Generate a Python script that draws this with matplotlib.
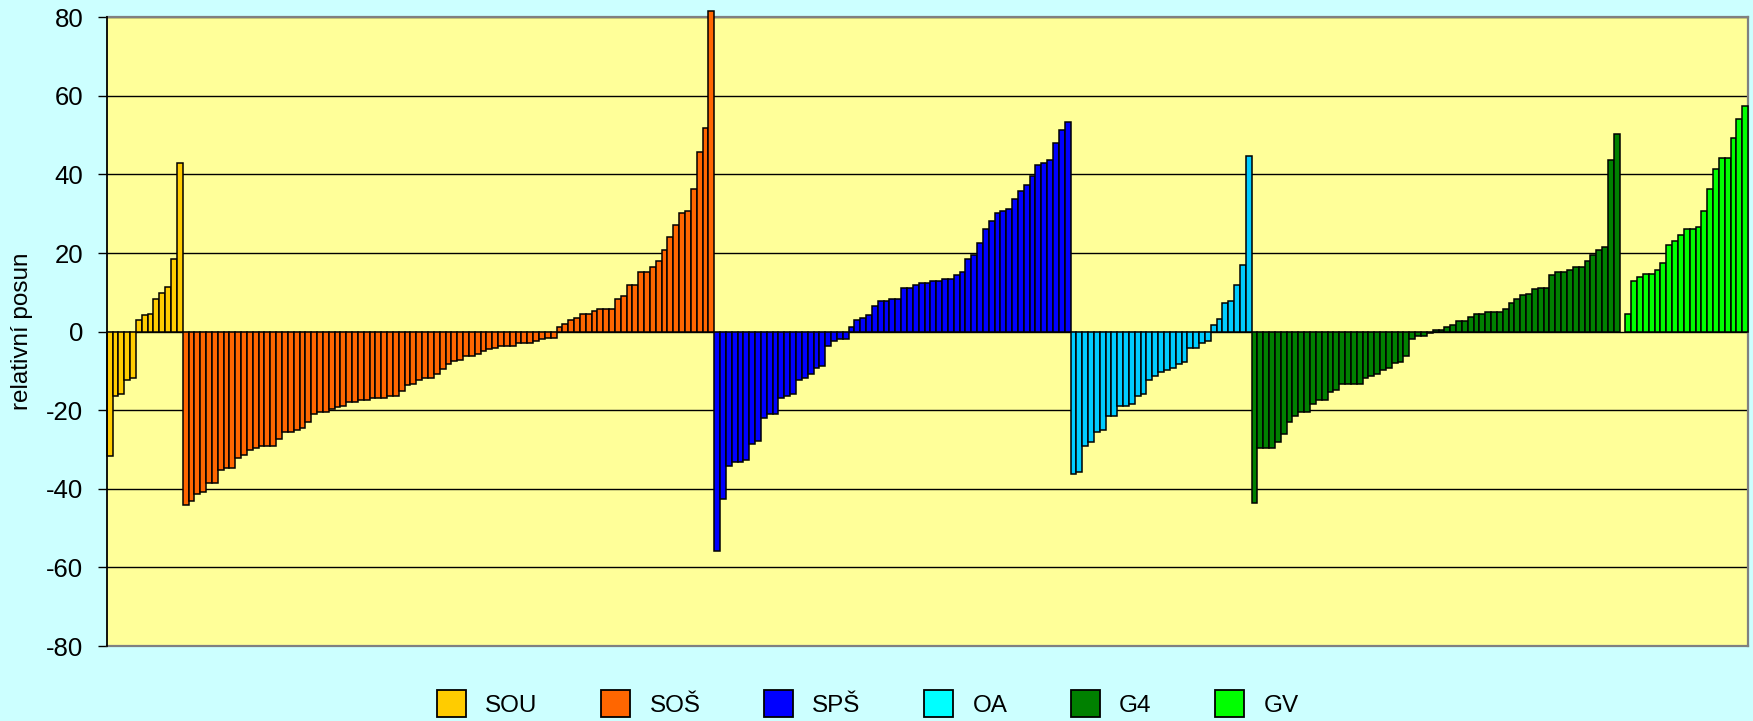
import matplotlib.pyplot as plt
from matplotlib.patches import Patch
import numpy as np

plt.rcParams['font.family'] = ['Liberation Sans', 'DejaVu Sans']
plt.rcParams['axes.unicode_minus'] = False

# hodnoty relativního posunu podle typu školy (seřazeno)
sou = [-31.6, -16.3, -15.9, -12.3, -11.7, 3.0, 4.3, 4.6, 8.3, 9.8, 11.3, 18.5, 43.0]

sos = [-44.1, -43.1, -41.4, -40.9, -38.4, -38.4, -35.3, -34.7, -34.7, -32.1,
       -31.5, -30.2, -29.6, -29.1, -29.1, -29.1, -27.2, -25.6, -25.6, -25.0,
       -24.5, -22.9, -21.0, -20.4, -20.4, -19.8, -19.3, -18.8, -17.9, -17.9,
       -17.5, -17.5, -16.9, -16.9, -16.9, -16.4, -16.4, -15.0, -13.7, -13.4,
       -12.4, -11.8, -11.8, -10.7, -9.4, -8.2, -7.5, -7.3, -6.2, -6.2,
       -5.6, -5.0, -4.3, -4.1, -3.6, -3.6, -3.6, -3.0, -3.0, -3.0,
       -2.5, -1.9, -1.5, -1.5,
       1.1, 1.9, 3.0, 3.6, 4.6, 4.6, 5.2, 5.7, 5.7, 5.7,
       8.2, 9.2, 11.8, 11.8, 15.3, 15.3, 16.4, 17.9, 20.9, 24.0,
       27.1, 30.2, 30.7, 36.3, 45.6, 51.8, 81.5]

sps = [-55.7, -42.6, -34.2, -33.2, -33.2, -32.7, -28.6, -27.7, -22.0, -21.0,
       -21.0, -16.9, -16.4, -15.8, -12.4, -11.8, -10.8, -9.3, -8.8, -3.6,
       -2.5, -1.9, -1.9,
       1.1, 3.0, 3.6, 4.2, 6.6, 7.7, 7.7, 8.2, 8.2, 11.2,
       11.2, 11.8, 12.3, 12.3, 12.8, 12.8, 13.4, 13.4, 14.3, 15.3,
       18.4, 19.5, 22.6, 26.1, 28.1, 30.2, 30.7, 31.2, 33.7, 35.8,
       37.4, 39.5, 42.5, 43.0, 43.6, 48.1, 51.2, 53.3]

oa = [-36.3, -35.8, -29.1, -28.1, -25.6, -25.0, -21.5, -21.5, -18.9, -18.9,
      -18.4, -16.4, -15.8, -12.3, -11.2, -10.2, -9.7, -9.3, -8.2, -7.7,
      -4.1, -4.1, -3.0, -2.5,
      1.6, 3.1, 7.2, 7.8, 11.9, 16.9, 44.6]

g4 = [-43.6, -29.6, -29.6, -29.6, -28.1, -26.1, -23.0, -21.5, -20.4, -20.4,
      -18.4, -17.4, -17.4, -15.3, -14.8, -13.3, -13.3, -13.3, -13.3, -11.8,
      -11.2, -10.7, -9.7, -9.2, -8.1, -7.7, -6.1, -1.9, -1.0, -1.0, -0.4,
      0.3, 0.5, 1.1, 1.6, 2.6, 2.6, 3.7, 4.6, 4.6, 5.1,
      5.1, 5.1, 5.7, 7.2, 8.2, 9.3, 9.7, 10.8, 11.2, 11.2,
      14.3, 15.3, 15.3, 15.8, 16.4, 16.4, 17.9, 19.5, 20.9, 21.5,
      43.6, 50.2]

gv = [4.6, 12.8, 13.8, 14.8, 14.8, 15.8, 17.5, 22.1, 23.1, 24.6,
      26.1, 26.1, 26.6, 30.7, 36.3, 41.4, 44.1, 44.1, 49.2, 54.2, 57.4]

labels = ['SOU', 'SOŠ', 'SPŠ', 'OA', 'G4', 'GV']
series = [sou, sos, sps, oa, g4, gv]
bar_colors = ['#FFCC00', '#FF6600', '#0000FF', '#00CCFF', '#008000', '#00FF00']
legend_colors = ['#FFCC00', '#FF6600', '#0000FF', '#00FFFF', '#008000', '#00FF00']
gaps_before = [0, 0, 0, 0, 0, 1]  # prázdný sloupec mezi G4 a GV

fig = plt.figure(figsize=(17.53, 7.21), dpi=100)
fig.patch.set_facecolor('#CCFFFF')
ax = fig.add_axes([0.0609, 0.104, 0.9363, 0.872])
ax.set_facecolor('#FFFF99')

start = 0
for vals, col, gap in zip(series, bar_colors, gaps_before):
    start += gap
    x = np.arange(start, start + len(vals))
    ax.bar(x, vals, width=1.0, color=col, edgecolor='black', linewidth=1.1,
           zorder=3, clip_on=False)
    start += len(vals)

ax.set_xlim(-0.5, start - 0.5)
ax.set_ylim(-80, 80)
ax.set_yticks(np.arange(-80, 81, 20))
ax.set_xticks([])
ax.grid(axis='y', color='black', linewidth=1.0, zorder=1)
ax.set_axisbelow(True)

for side in ['top', 'right', 'bottom']:
    ax.spines[side].set_color('#808080')
    ax.spines[side].set_linewidth(1.6)
ax.spines['left'].set_color('black')
ax.spines['left'].set_linewidth(1.3)
ax.spines['left'].set_zorder(4)

ax.tick_params(axis='y', direction='out', length=6.5, width=1.0,
               pad=10.5, labelsize=18.5, colors='black')

ax.set_ylabel('relativní posun', fontsize=17.5)
ax.yaxis.set_label_coords(-0.045, 0.5)

handles = [Patch(facecolor=c, edgecolor='black', linewidth=1.3) for c in legend_colors]
fig.legend(handles, labels, loc='center', bbox_to_anchor=(0.495, 0.024),
           ncol=6, frameon=False, fontsize=17.5, handlelength=1.2,
           handleheight=1.35, handletextpad=0.8, columnspacing=2.6,
           borderpad=0, borderaxespad=0)

fig.savefig('out.png', dpi=100, facecolor=fig.get_facecolor())
